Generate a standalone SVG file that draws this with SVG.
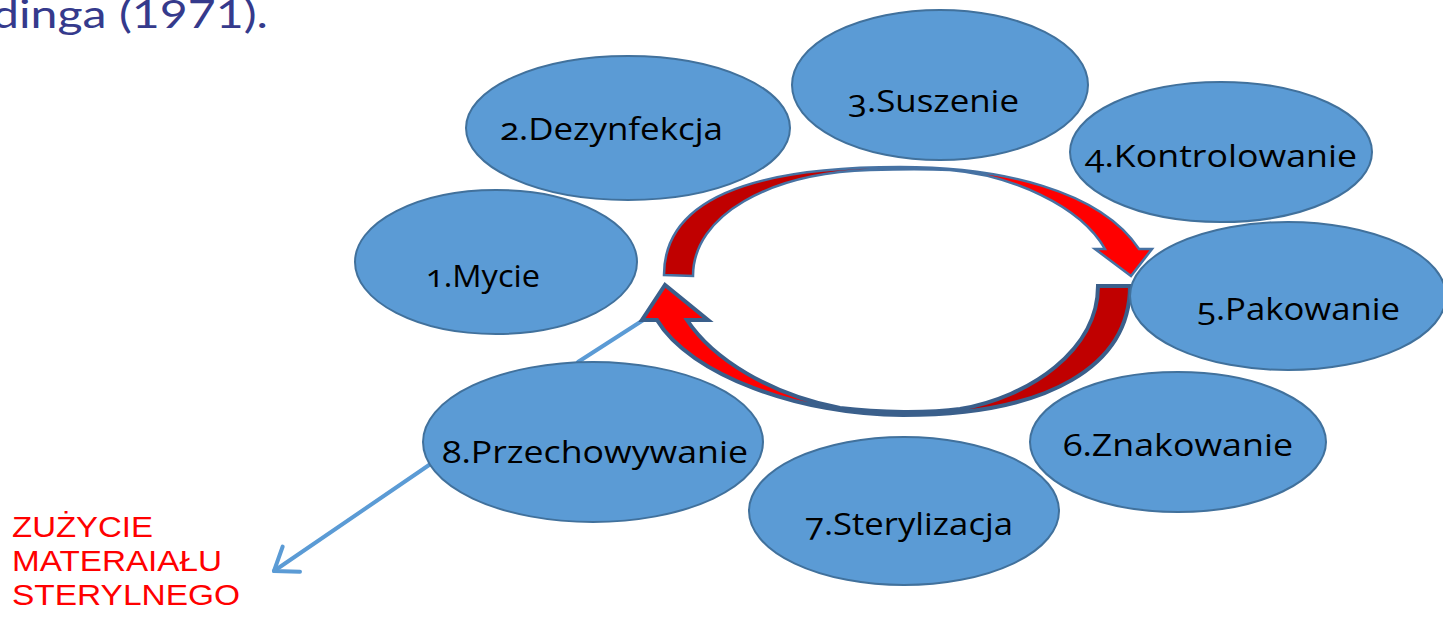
<svg xmlns="http://www.w3.org/2000/svg" width="1443" height="622" viewBox="0 0 1443 622">
  <defs>
    <style>
      .node ellipse { fill: #5B9BD5; stroke: #41719C; stroke-width: 2; }
      .node text { font-family: "Open Sans", "Noto Sans", sans-serif; font-size: 31px; fill: #000; font-variant-numeric: oldstyle-nums; }
      .link { fill: none; stroke: #5B9BD5; stroke-width: 4; stroke-linecap: round; }
      .loop-front { fill: #FF0000; }
      .loop-back { fill: #C00000; }
      .loop-top { fill: none; stroke: #4672A3; stroke-width: 2.5; stroke-linejoin: miter; }
      .loop-bottom { fill: none; stroke: #3A5F8B; stroke-width: 4; stroke-linejoin: miter; }
      .title { font-family: Lato, "Liberation Sans", sans-serif; font-size: 38px; fill: #353A8C; }
      .note { font-family: "Liberation Sans", Arial, sans-serif; font-size: 29px; fill: #FF0000; }
    </style>
    <marker id="open-head" markerUnits="userSpaceOnUse" markerWidth="32" markerHeight="36" viewBox="0 0 32 36" refX="28" refY="18" orient="auto">
      <path d="M7,2.7 L28,18 L7,33.3" fill="none" stroke="#5B9BD5" stroke-width="4" stroke-linecap="round" stroke-linejoin="round"/>
    </marker>
  </defs>

  <!-- heading fragment at the top edge -->
  <text class="title" x="-8" y="28" textLength="276" lengthAdjust="spacingAndGlyphs">dinga (1971).</text>

  <!-- connectors -->
  <g id="connectors">
    <line class="link" x1="578" y1="362" x2="648" y2="317"/>
    <line class="link" x1="432" y1="463" x2="274" y2="571" marker-end="url(#open-head)"/>
  </g>

  <!-- circular process arrows -->
  <g id="cycle">
    <g id="cycle-top">
      <path class="loop-front" d="M664,275 C664,200 750,167 900,167 C1000,167 1100,190 1139,249 L1152,249 L1131,276 L1095,249 L1105,249 C1080,205 1010,175 950,170 C930,169 900,169 870,170 C770,173 693,215 693,276 Z"/>
      <path class="loop-back" d="M664,275 C664,200 750,167 900,167 L870,170 C770,173 693,215 693,276 Z"/>
      <path class="loop-top" d="M664,275 C664,200 750,167 900,167 C1000,167 1100,190 1139,249 L1152,249 L1131,276 L1095,249 L1105,249 C1080,205 1010,175 950,170 C930,169 900,169 870,170 C770,173 693,215 693,276 Z"/>
    </g>
    <g id="cycle-bottom">
      <path class="loop-front" d="M1098,286 L1130,286 C1130,365 1050,415 903,415 C800,415 690,375 657,320 L642,320 L665,285 L708,320 L687,320 C712,358 770,395 840,408 C880,413 930,413 960,409 C1030,397 1098,350 1098,286 Z"/>
      <path class="loop-back" d="M1098,286 L1130,286 C1130,365 1050,415 903,415 L960,409 C1030,397 1098,350 1098,286 Z"/>
      <path class="loop-bottom" d="M1098,286 L1130,286 C1130,365 1050,415 903,415 C800,415 690,375 657,320 L642,320 L665,285 L708,320 L687,320 C712,358 770,395 840,408 C880,413 930,413 960,409 C1030,397 1098,350 1098,286 Z"/>
    </g>
  </g>

  <!-- process steps -->
  <g id="step-1" class="node">
    <ellipse cx="496" cy="262" rx="141" ry="72"/>
    <text x="426" y="287" textLength="114" lengthAdjust="spacingAndGlyphs">1.Mycie</text>
  </g>
  <g id="step-2" class="node">
    <ellipse cx="628" cy="128" rx="162" ry="72"/>
    <text x="500" y="140" textLength="223" lengthAdjust="spacingAndGlyphs">2.Dezynfekcja</text>
  </g>
  <g id="step-3" class="node">
    <ellipse cx="940" cy="85" rx="148" ry="75"/>
    <text x="848" y="112" textLength="171" lengthAdjust="spacingAndGlyphs">3.Suszenie</text>
  </g>
  <g id="step-4" class="node">
    <ellipse cx="1221" cy="152" rx="151" ry="70"/>
    <text x="1085" y="167" textLength="272" lengthAdjust="spacingAndGlyphs">4.Kontrolowanie</text>
  </g>
  <g id="step-5" class="node">
    <ellipse cx="1288" cy="296" rx="158" ry="74"/>
    <text x="1197" y="320" textLength="203" lengthAdjust="spacingAndGlyphs">5.Pakowanie</text>
  </g>
  <g id="step-6" class="node">
    <ellipse cx="1178" cy="442" rx="148" ry="70"/>
    <text x="1063" y="456" textLength="230" lengthAdjust="spacingAndGlyphs">6.Znakowanie</text>
  </g>
  <g id="step-7" class="node">
    <ellipse cx="904" cy="511" rx="155" ry="74"/>
    <text x="805" y="535" textLength="208" lengthAdjust="spacingAndGlyphs">7.Sterylizacja</text>
  </g>
  <g id="step-8" class="node">
    <ellipse cx="593" cy="442" rx="170" ry="80"/>
    <text x="442" y="463" textLength="306" lengthAdjust="spacingAndGlyphs">8.Przechowywanie</text>
  </g>

  <!-- end state label -->
  <g id="usage" class="note">
    <text x="12" y="537" textLength="141" lengthAdjust="spacingAndGlyphs">ZUŻYCIE</text>
    <text x="12" y="571" textLength="210" lengthAdjust="spacingAndGlyphs">MATERAIAŁU</text>
    <text x="12" y="605" textLength="228" lengthAdjust="spacingAndGlyphs">STERYLNEGO</text>
  </g>
</svg>
